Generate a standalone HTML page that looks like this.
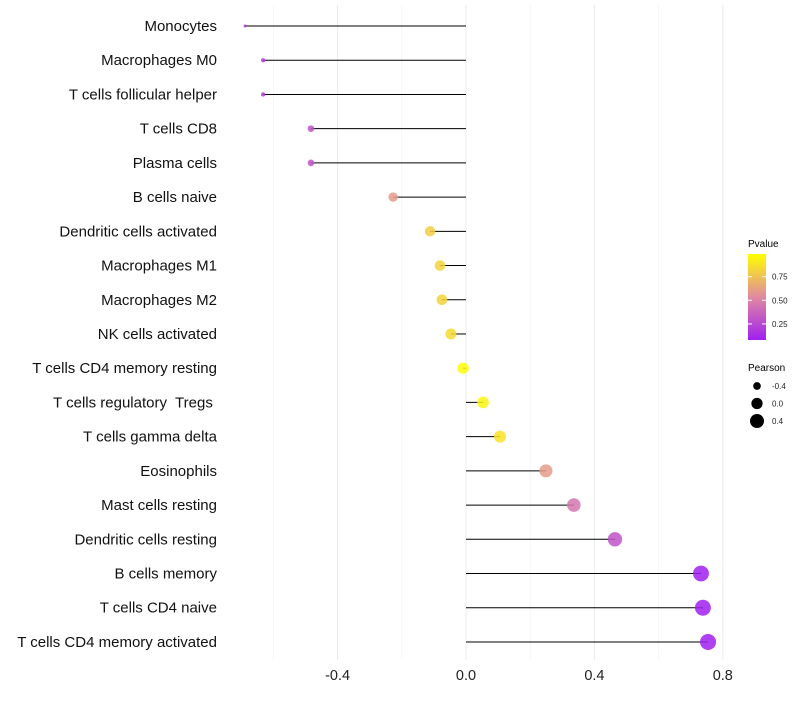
<!DOCTYPE html>
<html><head><meta charset="utf-8"><style>
body{margin:0;background:#fff;font-family:"Liberation Sans",sans-serif}
text{white-space:pre}
</style></head><body>
<svg id="chart" width="800" height="700" xmlns="http://www.w3.org/2000/svg">
<defs><linearGradient id="pg" x1="0" y1="1" x2="0" y2="0">
<stop offset="0" stop-color="#a020f0"/><stop offset="0.5" stop-color="#e08aa0"/><stop offset="1" stop-color="#ffff00"/></linearGradient></defs>
<g id="grid"></g>
<g id="marks"></g>
<g id="labels"></g>
<g>
<text x="748" y="247" font-size="10">Pvalue</text>
<rect x="748" y="254" width="18" height="86" fill="url(#pg)"/>
<g id="cbticks"></g>
</g>
<g>
<text x="748" y="371" font-size="10">Pearson</text>
<g id="sizeleg"></g>
</g>
</svg>
<script>
const categories=["Monocytes","Macrophages M0","T cells follicular helper","T cells CD8","Plasma cells","B cells naive","Dendritic cells activated","Macrophages M1","Macrophages M2","NK cells activated","T cells CD4 memory resting","T cells regulatory  Tregs ","T cells gamma delta","Eosinophils","Mast cells resting","Dendritic cells resting","B cells memory","T cells CD4 naive","T cells CD4 memory activated"];
const pearson=[-0.688,-0.632,-0.632,-0.483,-0.483,-0.227,-0.112,-0.081,-0.075,-0.047,-0.009,0.053,0.106,0.249,0.336,0.464,0.732,0.738,0.754];
const pvalue=[0.15,0.2,0.2,0.3,0.3,0.6,0.8,0.82,0.82,0.85,0.98,0.95,0.88,0.6,0.45,0.3,0.06,0.06,0.06];
const xTicks=[-0.4,0.0,0.4,0.8];
const xTickLabels=["-0.4","0.0","0.4","0.8"];
const xMinor=[-0.6,-0.2,0.2,0.6];
const pTicks=[0.25,0.5,0.75];
const pTickLabels=["0.25","0.50","0.75"];
const sizeKeys=[-0.4,0,0.4];
const sizeKeyLabels=["-0.4","0.0","0.4"];
const NS="http://www.w3.org/2000/svg";
const x=v=>466+v*321;
const y=i=>26+i*34.22;
const r=v=>Math.sqrt(Math.max(1,2.25+(v+0.688)*42.9));
const py=p=>340-(p-0.08)/(0.99-0.08)*86;
function lerp(a,b,t){return a.map((c,i)=>Math.round(c+(b[i]-c)*t));}
function col(p){const t=Math.min(1,Math.max(0,(p-0.08)/(0.91)));const A=[160,32,240],M=[224,138,160],B=[255,255,0];
const c=t<0.5?lerp(A,M,t*2):lerp(M,B,(t-0.5)*2);return `rgb(${c.join(',')})`;}
function mk(tag,attrs,parent){const e=document.createElementNS(NS,tag);for(const k in attrs)e.setAttribute(k,attrs[k]);parent.appendChild(e);return e;}
const grid=document.getElementById('grid'),marks=document.getElementById('marks'),labels=document.getElementById('labels');
xMinor.forEach(v=>{const l=mk('line',{x1:x(v),x2:x(v),y1:5,y2:660,stroke:'#f2f2f2','stroke-width':0.6},grid);

});
xTicks.forEach((v,i)=>{const l=mk('line',{x1:x(v),x2:x(v),y1:5,y2:660,stroke:'#ebebeb','stroke-width':1},grid);


const t=mk('text',{x:x(v),y:680,'font-size':14.5,'text-anchor':'middle',fill:'#222'},labels);t.textContent=xTickLabels[i];

});
categories.forEach((c,i)=>{
const s=mk('line',{x1:x(0),x2:x(pearson[i]),y1:y(i),y2:y(i),stroke:'#000','stroke-width':1},marks);


const d=mk('circle',{cx:x(pearson[i]),cy:y(i),r:r(pearson[i]),fill:col(pvalue[i]),'fill-opacity':0.85},marks);


const t=mk('text',{x:217,y:y(i)+5,'font-size':15,'text-anchor':'end',fill:'#111'},labels);t.textContent=c;

});
const cb=document.getElementById('cbticks');
pTicks.forEach((p,i)=>{mk('line',{x1:748,x2:752,y1:py(p),y2:py(p),stroke:'#fff'},cb);mk('line',{x1:762,x2:766,y1:py(p),y2:py(p),stroke:'#fff'},cb);
const t=mk('text',{x:772,y:py(p)+3,'font-size':8,fill:'#222'},cb);t.textContent=pTickLabels[i];

});
const sl=document.getElementById('sizeleg');
sizeKeys.forEach((v,i)=>{const cy=386+i*17.5;const c=mk('circle',{cx:757,cy:cy,r:r(v),fill:'#000'},sl);


const t=mk('text',{x:772,y:cy+3,'font-size':8,fill:'#222'},sl);t.textContent=sizeKeyLabels[i];

});
</script>
</body></html>
